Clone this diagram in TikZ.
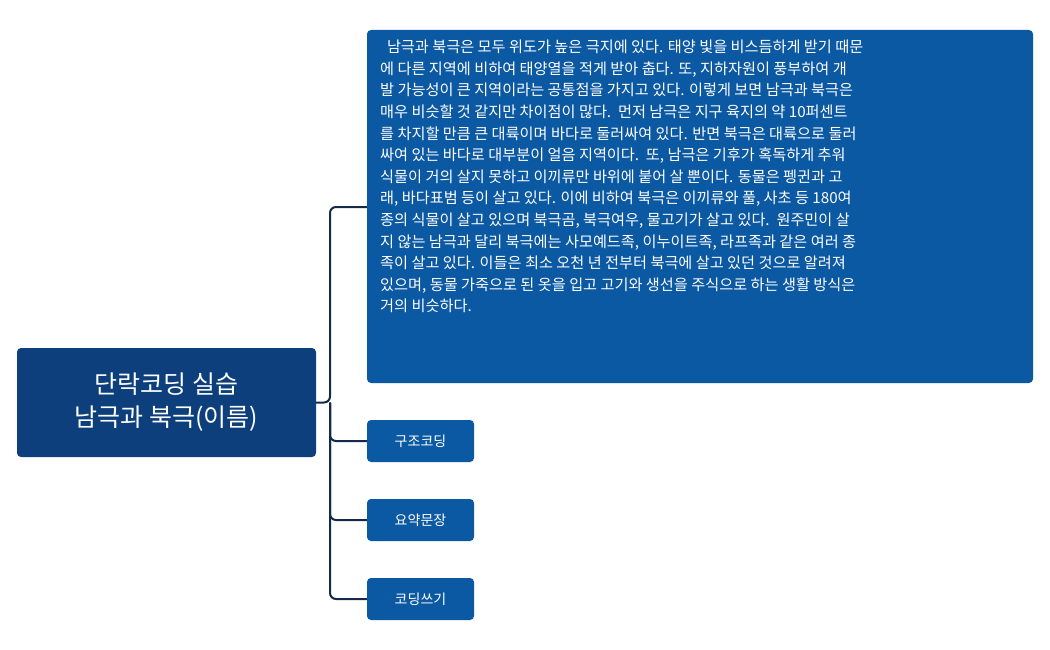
\documentclass[tikz,border=0pt]{standalone}
\usepackage{fontspec}
\setmainfont{Noto Sans CJK KR}
\begin{document}
\begin{tikzpicture}[x=1pt,y=-1pt,
  mainbox/.style={fill=mainblue,rounded corners=4pt,text=white,inner sep=0pt},
  subbox/.style={fill=subblue,rounded corners=4pt,text=white,inner sep=0pt,minimum width=107pt,minimum height=42pt,font=\fontsize{14}{16}\selectfont},
  conn/.style={draw=linec,line width=2pt,rounded corners=6pt}]
\definecolor{mainblue}{HTML}{0C3F7C}
\definecolor{subblue}{HTML}{0B58A3}
\definecolor{linec}{HTML}{15294A}
\useasboundingbox (0,0) rectangle (1050,650);
\node[mainbox,minimum width=299pt,minimum height=109pt,align=center,font=\fontsize{25}{33}\selectfont] (root) at (166.5,402.5) {단락코딩 실습\\남극과 북극(이름)};
\node[subbox,minimum width=666pt,minimum height=353pt] (text) at (700,206.5) {};
\node[anchor=north west,text=white,align=left,inner sep=0pt,font=\fontsize{15.2}{21.6}\selectfont] (body) at (380,40) {\ \ 남극과 북극은 모두 위도가 높은 극지에 있다. 태양 빛을 비스듬하게 받기 때문\\에 다른 지역에 비하여 태양열을 적게 받아 춥다. 또, 지하자원이 풍부하여 개\\발 가능성이 큰 지역이라는 공통점을 가지고 있다. 이렇게 보면 남극과 북극은\\매우 비슷할 것 같지만 차이점이 많다.\ \ 먼저 남극은 지구 육지의 약 10퍼센트\\를 차지할 만큼 큰 대륙이며 바다로 둘러싸여 있다. 반면 북극은 대륙으로 둘러\\싸여 있는 바다로 대부분이 얼음 지역이다.\ \ 또, 남극은 기후가 혹독하게 추워\\식물이 거의 살지 못하고 이끼류만 바위에 붙어 살 뿐이다. 동물은 펭귄과 고\\래, 바다표범 등이 살고 있다. 이에 비하여 북극은 이끼류와 풀, 사초 등 180여\\종의 식물이 살고 있으며 북극곰, 북극여우, 물고기가 살고 있다.\ \ 원주민이 살\\지 않는 남극과 달리 북극에는 사모예드족, 이누이트족, 라프족과 같은 여러 종\\족이 살고 있다. 이들은 최소 오천 년 전부터 북극에 살고 있던 것으로 알려져\\있으며, 동물 가죽으로 된 옷을 입고 고기와 생선을 주식으로 하는 생활 방식은\\거의 비슷하다.};
\node[subbox] (s1) at (420.5,441) {구조코딩};
\node[subbox] (s2) at (420.5,520) {요약문장};
\node[subbox] (s3) at (420.5,599) {코딩쓰기};
\coordinate (tr) at (330,402.5);
\draw[conn] (root.east) -- (tr) |- (text.west |- 0,207);
\draw[conn] (tr) |- (s1.west);
\draw[conn] (tr) |- (s2.west);
\draw[conn] (tr) |- (s3.west);
\end{tikzpicture}
\end{document}
